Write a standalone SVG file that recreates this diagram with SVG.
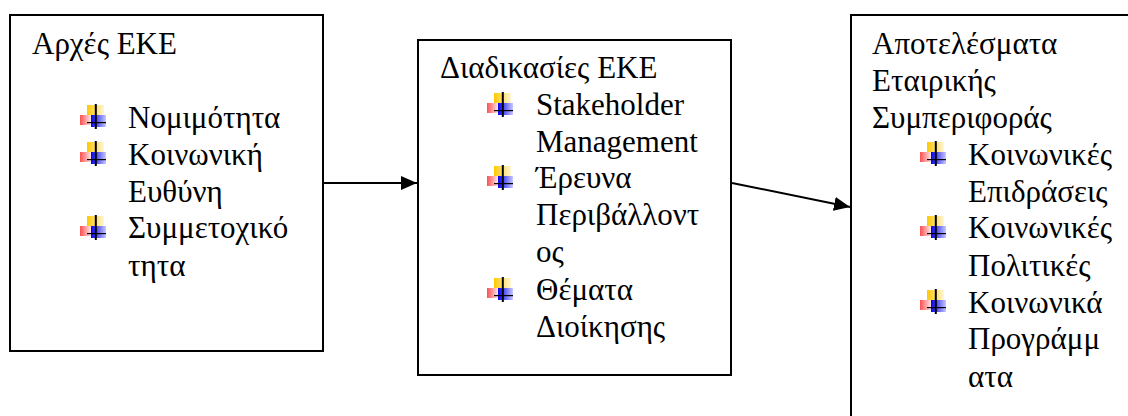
<svg xmlns="http://www.w3.org/2000/svg" xmlns:xlink="http://www.w3.org/1999/xlink" width="1128" height="416" viewBox="0 0 1128 416">
<style>
.box{fill:#fff;stroke:#000;stroke-width:2}
.conn{stroke:#000;stroke-width:2;fill:none}
</style>
<defs>
<linearGradient id="gy" x1="0" y1="0" x2="1" y2="0"><stop offset="0" stop-color="#FFC800"/><stop offset="1" stop-color="#FFF6D8"/></linearGradient>
<linearGradient id="gr" x1="0" y1="0" x2="1" y2="0"><stop offset="0" stop-color="#FF5050"/><stop offset="1" stop-color="#FFE4E4"/></linearGradient>
<linearGradient id="gb" x1="0" y1="0" x2="1" y2="0"><stop offset="0" stop-color="#0000F0"/><stop offset="1" stop-color="#C8C8FF"/></linearGradient>
<g id="bullet">
<rect x="7" y="1" width="17" height="10" fill="url(#gy)"/>
<rect x="0" y="11" width="11" height="10" fill="url(#gr)"/>
<rect x="11" y="11" width="15" height="12" fill="url(#gb)"/>
<rect x="14.8" y="0" width="2" height="25" fill="#000"/>
<rect x="7" y="18" width="19" height="1.2" fill="#000"/>
</g>
<marker id="ah" markerWidth="16" markerHeight="14" refX="16" refY="7" orient="auto" markerUnits="userSpaceOnUse"><path d="M0,0 L16,7 L0,14 Z" fill="#000"/></marker>
</defs>
<g id="connectors">
<line class="conn" x1="324" y1="183" x2="417" y2="183" marker-end="url(#ah)"/>
<line class="conn" x1="732" y1="183" x2="850" y2="207" marker-end="url(#ah)"/>
</g>
<g font-family="Liberation Serif, serif" font-size="31" fill="#000">
<g id="node-arxes">
<rect class="box" x="10" y="15" width="313" height="336"/>
<text x="32" y="54">Αρχές ΕΚΕ</text>
<use xlink:href="#bullet" x="80" y="104"/>
<text x="128" y="128">Νομιμότητα</text>
<use xlink:href="#bullet" x="80" y="141"/>
<text x="128" y="165">Κοινωνική</text>
<text x="128" y="202">Ευθύνη</text>
<use xlink:href="#bullet" x="80" y="215"/>
<text x="128" y="238">Συμμετοχικό</text>
<text x="128" y="276">τητα</text>
</g>
<g id="node-diadikasies">
<rect class="box" x="418" y="40" width="313" height="335"/>
<text x="440" y="78">Διαδικασίες ΕΚΕ</text>
<use xlink:href="#bullet" x="487" y="92"/>
<text x="536" y="115">Stakeholder</text>
<text x="536" y="152">Management</text>
<use xlink:href="#bullet" x="487" y="165"/>
<text x="536" y="188">Έρευνα</text>
<text x="536" y="225">Περιβάλλοντ</text>
<text x="536" y="262">ος</text>
<use xlink:href="#bullet" x="487" y="277"/>
<text x="536" y="300">Θέματα</text>
<text x="536" y="337">Διοίκησης</text>
</g>
<g id="node-apotelesmata">
<rect class="box" x="851" y="15" width="300" height="420"/>
<text x="872" y="54">Αποτελέσματα</text>
<text x="872" y="91">Εταιρικής</text>
<text x="872" y="128">Συμπεριφοράς</text>
<use xlink:href="#bullet" x="920" y="141"/>
<text x="968" y="165">Κοινωνικές</text>
<text x="968" y="202">Επιδράσεις</text>
<use xlink:href="#bullet" x="920" y="215"/>
<text x="968" y="238">Κοινωνικές</text>
<text x="968" y="276">Πολιτικές</text>
<use xlink:href="#bullet" x="920" y="289"/>
<text x="968" y="313">Κοινωνικά</text>
<text x="968" y="349">Προγράμμ</text>
<text x="968" y="387">ατα</text>
</g>
</g>
</svg>
